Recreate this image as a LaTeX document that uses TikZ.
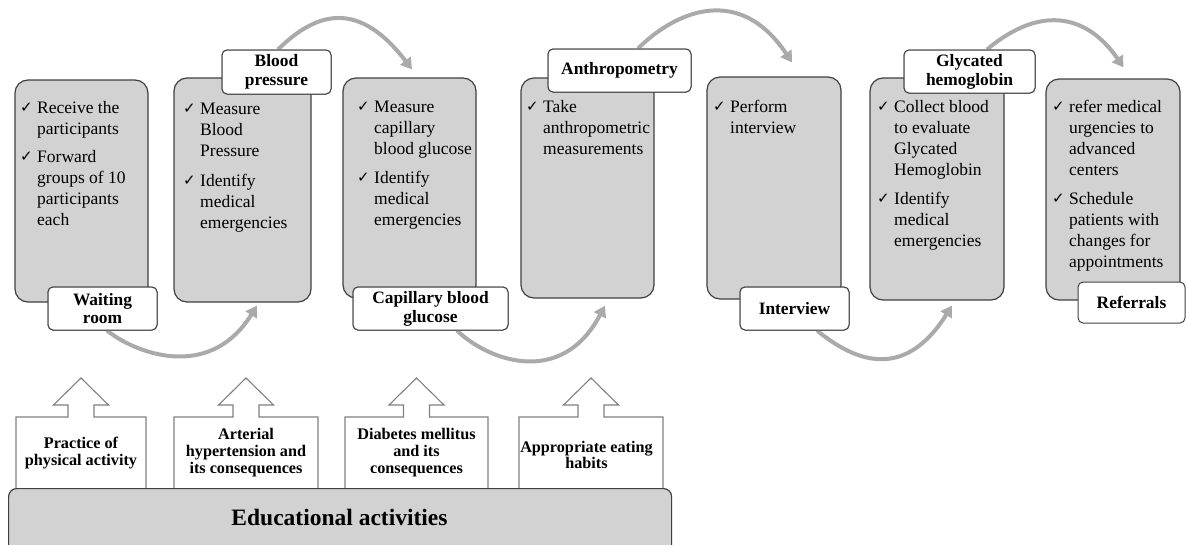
\documentclass[tikz,border=0pt]{standalone}
\usepackage{fontspec}
\setmainfont{Liberation Serif}
\newfontfamily\symf{DejaVu Sans}
\usetikzlibrary{arrows.meta,calc}
\definecolor{boxfill}{RGB}{210,210,210}
\definecolor{boxline}{RGB}{64,64,64}
\definecolor{arcgray}{RGB}{170,170,170}
\definecolor{upline}{RGB}{128,128,128}
\newcommand\ck[1]{\makebox[17pt][l]{\raisebox{0.5pt}{\symf\fontsize{15}{15}\selectfont ✓}}\begin{tabular}[t]{@{}l@{}}#1\end{tabular}}
\begin{document}
\begin{tikzpicture}[x=1pt,y=-1pt,
  gbox/.style={draw=boxline,fill=boxfill,line width=1.2pt,rounded corners=13pt,inner sep=0pt},
  item/.style={anchor=base west,inner sep=0pt,font=\fontsize{17.5}{21}\selectfont},
  lab/.style={draw=boxline,fill=white,line width=1pt,rounded corners=5pt,inner sep=0pt,align=center,font=\bfseries\fontsize{17.4}{18.8}\selectfont},
  flow/.style={draw=arcgray,line width=4pt,-{Triangle[length=11pt,width=13pt]}},
  upbox/.style={draw=upline,fill=white,line width=1.1pt},
  edu/.style={font=\bfseries\fontsize{16.2}{17}\selectfont,align=center,inner sep=0pt}]
\useasboundingbox (0,0) rectangle (1186,544);

% up arrows (educational topics)
\foreach \cx/\hw in {81/65,246/72,416.5/71.5,591/72}{
  \draw[upbox] ({\cx-\hw},488) -- ({\cx-\hw},417) -- ({\cx-13},417) -- ({\cx-13},405) -- ({\cx-27.5},405)
     -- (\cx,378) -- ({\cx+27.5},405) -- ({\cx+13},405) -- ({\cx+13},417) -- ({\cx+\hw},417) -- ({\cx+\hw},488);
}
\node[edu] (ta) at (81,453) {Practice of\\physical activity};
\node[edu] (tb) at (246,453) {Arterial\\hypertension and\\its consequences};
\node[edu] (tc) at (416.5,452.5) {Diabetes mellitus\\and its\\consequences};
\node[edu,font=\bfseries\fontsize{16.2}{14}\selectfont] (td) at (586.5,455) {Appropriate eating\\habits};

% educational activities
\node[gbox,rounded corners=8pt,anchor=north west,minimum width=663pt,minimum height=90pt] (eduact) at (8,488) {};
\node[anchor=base,inner sep=0pt,font=\bfseries\fontsize{23.5}{26}\selectfont] (edutext) at (339.5,525) {Educational activities};

% gray step boxes
\node[gbox,minimum width=133pt,minimum height=222pt] (b1) at (81.5,191) {};
\node[gbox,minimum width=137pt,minimum height=224pt] (b2) at (242.5,190) {};
\node[gbox,minimum width=133pt,minimum height=220pt] (b3) at (409.5,188) {};
\node[gbox,minimum width=133pt,minimum height=220pt] (b4) at (587.5,188) {};
\node[gbox,minimum width=134pt,minimum height=222pt] (b5) at (774,188) {};
\node[gbox,minimum width=134pt,minimum height=222pt] (b6) at (937,189) {};
\node[gbox,minimum width=134pt,minimum height=221pt] (b7) at (1113,189.5) {};

% label boxes
\path (102.5,308.5) coordinate (wrc) (276.5,72) coordinate (bpc) (430.5,308.5) coordinate (cgc)
      (619.5,70.5) coordinate (anc) (794.5,308.5) coordinate (ivc) (969.5,71.5) coordinate (ghc)
      (1131.5,302.5) coordinate (rfc);
\node[lab,minimum width=109pt,minimum height=43pt] (wr) at (wrc) {Waiting\\room};
\node[lab,minimum width=109pt,minimum height=44pt] (bp) at (bpc) {Blood\\pressure};
\node[lab,minimum width=155pt,minimum height=43pt] (cg) at (cgc) {Capillary blood\\glucose};
\node[lab,minimum width=143pt,minimum height=43pt] (an) at (anc) {Anthropometry};
\node[lab,minimum width=109pt,minimum height=43pt] (iv) at (ivc) {Interview};
\node[lab,minimum width=131pt,minimum height=43pt] (gh) at (ghc) {Glycated\\hemoglobin};
\node[lab,minimum width=107pt,minimum height=41pt] (rf) at (rfc) {Referrals};

% arcs
\draw[flow] ([xshift=4.5pt]wr.south) .. controls (132,351) and (208,384) .. ($(b2.south)+(14.5,3)$);
\draw[flow] ([xshift=1.5pt]bp.north) .. controls (317,11) and (359,0) .. ($(b3.north)+(2.5,-8)$);
\draw[flow] ([xshift=26.5pt]cg.south) .. controls (485.6,358.6) and (560.4,389.7) .. ($(b4.south)+(17.5,7)$);
\draw[flow] ([xshift=18.5pt]an.north) .. controls (677,10) and (740,-15.5) .. ($(b5.north)+(18,-14)$);
\draw[flow] ([xshift=22.5pt]iv.south) .. controls (853.5,360.3) and (903.5,382.6) .. ($(b6.south)+(15,5)$);
\draw[flow] ([xshift=17.5pt]gh.north) .. controls (1042.6,2.7) and (1088.7,16.5) .. ($(b7.north)+(10.5,-11)$);
% redraw labels over arc starts
\node[lab,minimum width=109pt,minimum height=43pt] at (wrc) {Waiting\\room};
\node[lab,minimum width=109pt,minimum height=44pt] at (bpc) {Blood\\pressure};
\node[lab,minimum width=155pt,minimum height=43pt] at (cgc) {Capillary blood\\glucose};
\node[lab,minimum width=143pt,minimum height=43pt] at (anc) {Anthropometry};
\node[lab,minimum width=109pt,minimum height=43pt] at (ivc) {Interview};
\node[lab,minimum width=131pt,minimum height=43pt] at (ghc) {Glycated\\hemoglobin};

% items
\node[item] (i11) at (20,113) {\ck{Receive the\\participants}};
\node[item] (i12) at (20,162) {\ck{Forward\\groups of 10\\participants\\each}};
\node[item] (i21) at (183,114) {\ck{Measure\\Blood\\Pressure}};
\node[item] (i22) at (183,186) {\ck{Identify\\medical\\emergencies}};
\node[item] (i31) at (357,112) {\ck{Measure\\capillary\\blood glucose}};
\node[item] (i32) at (357,183) {\ck{Identify\\medical\\emergencies}};
\node[item] (i41) at (526,112) {\ck{Take\\anthropometric\\measurements}};
\node[item] (i51) at (713,112) {\ck{Perform\\interview}};
\node[item] (i61) at (877,112) {\ck{Collect blood\\to evaluate\\Glycated\\Hemoglobin}};
\node[item] (i62) at (877,204) {\ck{Identify\\medical\\emergencies}};
\node[item] (i71) at (1052,112) {\ck{refer medical\\urgencies to\\advanced\\centers}};
\node[item] (i72) at (1052,204) {\ck{Schedule\\patients with\\changes for\\appointments}};
\end{tikzpicture}
\end{document}
